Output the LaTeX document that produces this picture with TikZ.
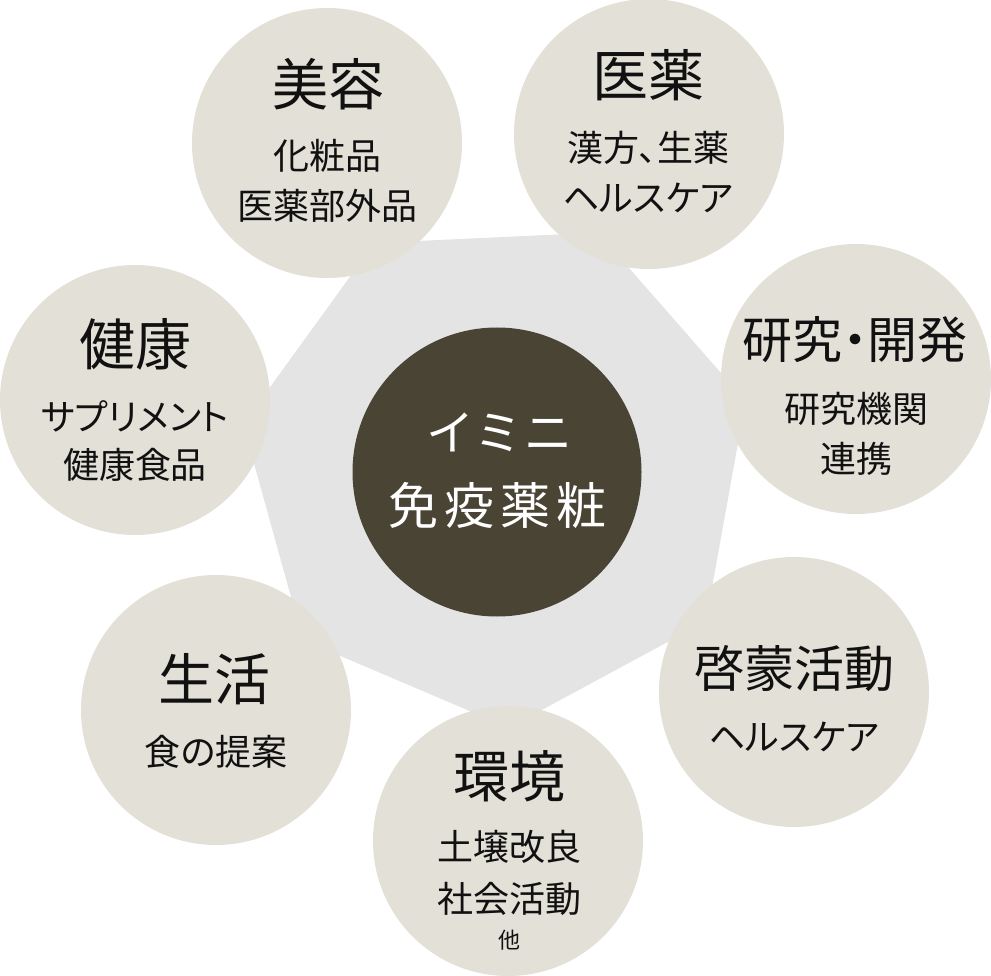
\documentclass[tikz,border=0pt]{standalone}
\usepackage{fontspec}
\setmainfont{Noto Sans CJK JP}[RawFeature=+palt]
\definecolor{beige}{HTML}{E3E0D7}
\definecolor{heptgray}{HTML}{E4E4E4}
\definecolor{darkcore}{HTML}{4A4434}
\definecolor{inktext}{HTML}{111111}
\tikzset{
 topic/.style={circle, fill=beige, minimum size=270pt, inner sep=0pt},
 core/.style={circle, fill=darkcore, minimum size=289pt, inner sep=0pt},
 title/.style={text=inktext, inner sep=0pt, font=\fontsize{56}{60}\selectfont},
 longtitle/.style={text=inktext, inner sep=0pt, font=\fontsize{50}{54}\selectfont},
 sub/.style={text=inktext, inner sep=0pt, font=\fontsize{36}{40}\selectfont},
 tinytext/.style={text=inktext, inner sep=0pt, font=\fontsize{22}{26}\selectfont},
 coretext/.style={text=white, inner sep=0pt, font=\fontsize{50}{54}\selectfont},
}
\begin{document}
\begin{tikzpicture}[x=1pt,y=-1pt]
\useasboundingbox (0,0) rectangle (991,976);
% heptagon
\fill[heptgray] ({497+258*cos(15.5)},{470-258*sin(15.5)})
  \foreach \k in {1,...,6}{ -- ({497+258*cos(15.5+51.4286*\k)},{470-258*sin(15.5+51.4286*\k)}) } -- cycle;
% core
\node[core] (core) at (497,472) {};
\node[coretext, font=\fontsize{48}{52}\selectfont] (coreA) at (499,432) {イ\hspace{8pt}ミ\hspace{8pt}ニ};
\node[coretext] (coreB) at (497,505) {免\hspace{6pt}疫\hspace{6pt}薬\hspace{6pt}粧};
% topic circles
\node[topic] (biyou) at (327,143) {};
\node[topic] (iyaku) at (649,134) {};
\node[topic] (kenkyu) at (856,379) {};
\node[topic] (keimou) at (794,692) {};
\node[topic] (kankyo) at (508,841) {};
\node[topic] (seikatsu) at (216,710) {};
\node[topic] (kenkou) at (135,400) {};
% 美容
\node[title] (biyouT) at (328,84) {美容};
\node[sub] (biyouS1) at (327,156) {化粧品};
\node[sub] (biyouS2) at (327,206) {医薬部外品};
% 医薬
\node[title] (iyakuT) at (648,75) {医薬};
\node[sub] (iyakuS1) at (648,148) {漢方、生薬};
\node[sub] (iyakuS2) at (648,198) {ヘルスケア};
% 研究・開発
\node[longtitle] (kenkyuT) at (855,340) {研究・開発};
\node[sub] (kenkyuS1) at (856,409) {研究機関};
\node[sub] (kenkyuS2) at (856,459) {連携};
% 啓蒙活動
\node[longtitle] (keimouT) at (794,669) {啓蒙活動};
\node[sub] (keimouS1) at (794,737) {ヘルスケア};
% 環境
\node[title] (kankyoT) at (509,776) {環境};
\node[sub] (kankyoS1) at (509,847) {土壌改良};
\node[sub] (kankyoS2) at (509,899) {社会活動};
\node[tinytext] (kankyoS3) at (509,940) {他};
% 生活
\node[title] (seikatsuT) at (214,679) {生活};
\node[sub] (seikatsuS1) at (216,752) {食の提案};
% 健康
\node[title] (kenkouT) at (135,344) {健康};
\node[sub] (kenkouS1) at (135,416) {サプリメント};
\node[sub] (kenkouS2) at (135,465) {健康食品};
\end{tikzpicture}
\end{document}
